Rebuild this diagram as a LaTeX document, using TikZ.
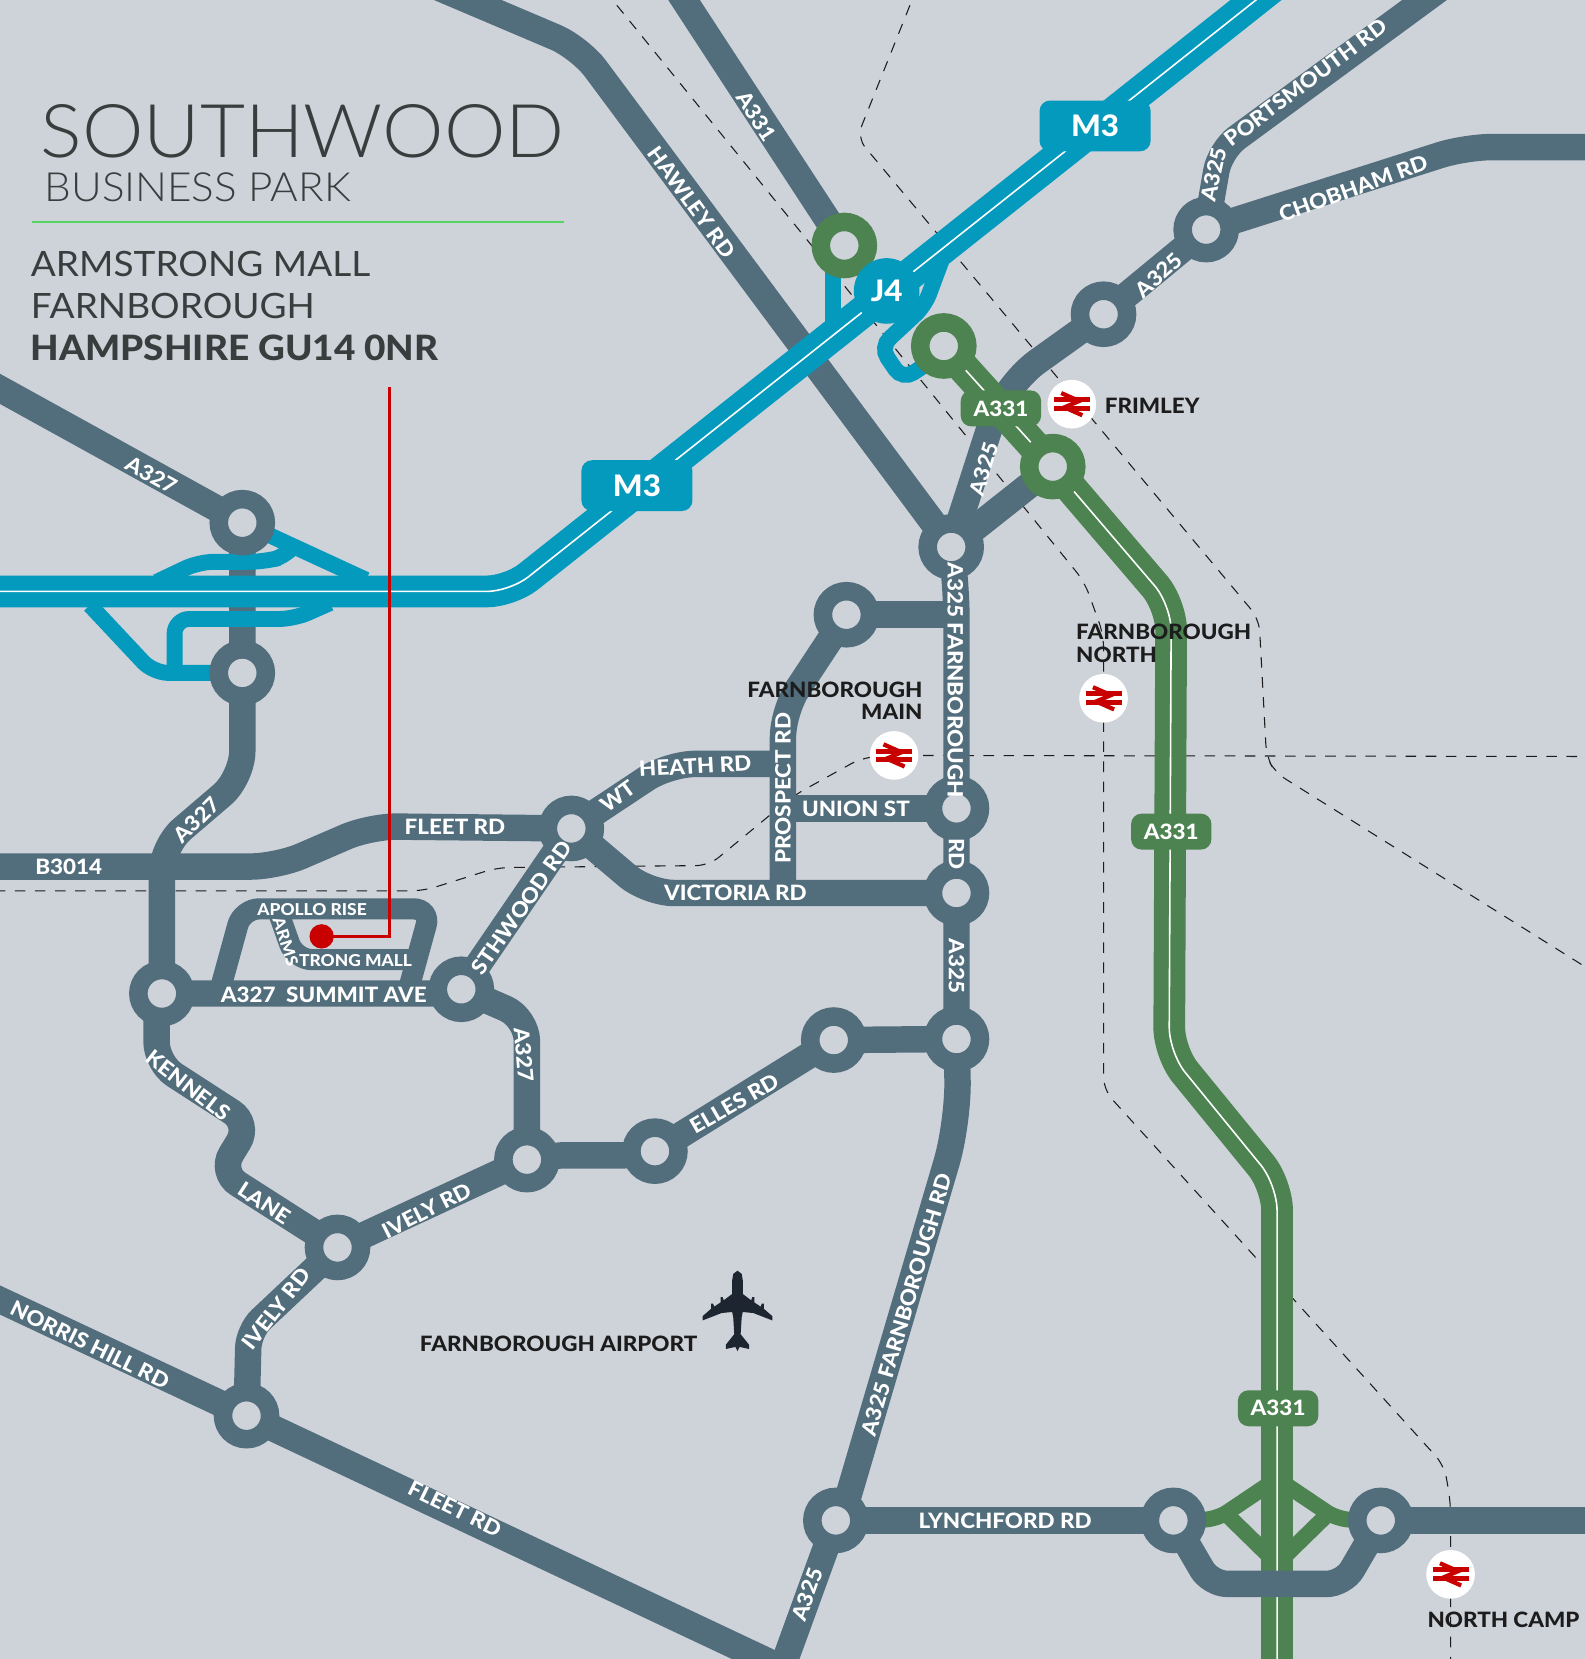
\documentclass[tikz,border=0pt]{standalone}
\usepackage{fontspec}
\setmainfont{Lato}[FakeStretch=1.06,BoldFont={Lato Heavy}]
\newfontfamily\lightfont{Lato Light}[FakeStretch=1.05]
\definecolor{bgcol}{HTML}{CED2D9}
\definecolor{roadcol}{HTML}{526D7C}
\definecolor{mwaycol}{HTML}{049ABD}
\definecolor{greencol}{HTML}{4C8350}
\definecolor{inkcol}{HTML}{1C1C1C}
\definecolor{railcol}{HTML}{C80000}
\definecolor{titlecol}{HTML}{3A3D3D}
\definecolor{rulecol}{HTML}{55D462}
\definecolor{planecol}{HTML}{1D2530}
\tikzset{
    road/.style={draw=roadcol,line width=25pt,rounded corners=25pt},
    minor/.style={draw=roadcol,line width=20pt,rounded corners=16pt},
    mway/.style={draw=mwaycol,double=white,double distance=1.5pt,line width=14.25pt,rounded corners=22pt},
    trunk/.style={draw=greencol,double=white,double distance=1.5pt,line width=14.25pt,rounded corners=24pt},
    slip/.style={draw=mwaycol,line width=15pt,rounded corners=14pt},
    gslip/.style={draw=greencol,line width=15pt,rounded corners=12pt},
    boundary/.style={draw=inkcol,line width=1pt,dash pattern=on 10pt off 9pt,rounded corners=12pt},
    ringroad/.style={circle,draw=roadcol,fill=bgcol,line width=17.5pt,minimum size=44.5pt,inner sep=0pt,outer sep=0pt},
    ringgreen/.style={ringroad,draw=greencol},
    lbl/.style={text=white,font=\bfseries\fontsize{20}{20}\selectfont,inner sep=0pt},
    lblsmall/.style={lbl,font=\bfseries\fontsize{15.5}{15.5}\selectfont},
    stn/.style={text=inkcol,font=\bfseries\fontsize{20}{21}\selectfont,inner sep=0pt},
    badge/.style={fill=greencol,text=white,rounded corners=10pt,minimum width=76pt,minimum height=34pt,inner sep=0pt,font=\bfseries\fontsize{20}{20}\selectfont},
    mbadge/.style={fill=mwaycol,text=white,rounded corners=10pt,minimum width=105pt,minimum height=48pt,inner sep=0pt,font=\bfseries\fontsize{28}{28}\selectfont},
    stndisc/.style={circle,fill=white,minimum size=46pt,inner sep=0pt},
    railsym/.pic={
        \fill[railcol] (-17,-6.5) rectangle (17,-1.8);
        \fill[railcol] (-17,1.8) rectangle (17,6.5);
        \draw[railcol,line width=4pt] (-10,-10.5) -- (7,-3) -- (-7,3) -- (10,10.5);
    },
    planesym/.pic={
        \fill[planecol] (0,-39) -- (4,-36) -- (5,-30) -- (5,-17) -- (13,-11) -- (14,-14) -- (16,-14) -- (16,-9)
            -- (22,-5) -- (23,-8) -- (25,-8) -- (25,-3) -- (33,4) -- (33,8) -- (15,1) -- (5,0) -- (4,5) -- (3,21)
            -- (11,31) -- (11,35) -- (2,33) -- (0,37) -- (-2,33) -- (-11,35) -- (-11,31) -- (-3,21) -- (-4,5)
            -- (-5,0) -- (-15,1) -- (-33,8) -- (-33,4) -- (-25,-3) -- (-25,-8) -- (-23,-8) -- (-22,-5) -- (-16,-9)
            -- (-16,-14) -- (-14,-14) -- (-13,-11) -- (-5,-17) -- (-5,-30) -- (-4,-36) -- cycle;
    },
}
\begin{document}
\begin{tikzpicture}[x=1pt,y=-1pt]
    \useasboundingbox (0,0) rectangle (1498,1568);
    \clip (0,0) rectangle (1498,1568);
    \fill[bgcol] (0,0) rectangle (1498,1568);

    % junctions
    \coordinate (rbNorth) at (229,494);
    \coordinate (rbSouth) at (229,636);
    \coordinate (rbSummitW) at (153,939);
    \coordinate (rbSummitE) at (436,935);
    \coordinate (rbFleet) at (540,783);
    \coordinate (rbPortsmouth) at (1140,217);
    \coordinate (rbMid) at (1043,297);
    \coordinate (rbFarn) at (899,517);
    \coordinate (rbProspect) at (800,581);
    \coordinate (rbUnion) at (904,764);
    \coordinate (rbVictoria) at (904,844);
    \coordinate (rbEllesE) at (904,982);
    \coordinate (rbEllesW) at (788,983);
    \coordinate (rbIvelyE) at (498,1096);
    \coordinate (rbIvelyM) at (619,1088);
    \coordinate (rbIvelyW) at (319,1179);
    \coordinate (rbNorris) at (233,1338);
    \coordinate (rbLynch) at (790,1437);
    \coordinate (rbLynchE) at (1109,1437);
    \coordinate (rbCamp) at (1305,1437);
    \coordinate (grTop) at (798,232);
    \coordinate (grMid) at (892,327);
    \coordinate (grLow) at (995,441);
    \coordinate (stFrimley) at (1013,382);
    \coordinate (stNorth) at (1043,660);
    \coordinate (stMain) at (845,714);
    \coordinate (stCamp) at (1371,1488);
    \coordinate (pin) at (304,885);

    % boundaries
    \draw[boundary] (583,5) -- (1025,550) -- (1043,600) -- (stNorth) -- (1043,1030) -- (1365,1385) -- (1371,1420) -- (1371,1568);
    \draw[boundary] (860,5) -- (810,130) -- (1190,585) -- (1197,715) -- (1205,730) -- (1505,918);
    \draw[boundary] (-5,842) -- (400,842) -- (470,820) -- (670,818) -- (750,752) -- (815,716) -- (stMain) -- (1505,715);

    % roads
    \draw[road] (395,-20) -- (548,45) -- (rbFarn);
    \draw[road] (640,-10) -- (grTop);
    \draw[road] (-10,362) -- (rbNorth);
    \draw[road] (rbNorth) -- (rbSouth) -- (229,735) -- (153,800) -- (rbSummitW);
    \draw[road] (-10,819) -- (262,819) -- (350,781) -- (rbFleet);
    \draw[road] (rbSummitW) -- (436,939) -- (rbSummitE);
    \draw[minor] (207,939) -- (229,859) -- (407,859) -- (385,939);
    \draw[minor] (262,859) -- (279,907) -- (395,907);
    \draw[road,rounded corners=22pt] (rbSummitE) -- (498,962) -- (rbIvelyE);
    \draw[road] (rbSummitE) -- (rbFleet);
    \draw[road,rounded corners=1pt] (rbIvelyE) -- (530,1092) -- (590,1092) -- (rbIvelyM);
    \draw[road] (rbIvelyM) -- (rbEllesW) -- (rbEllesE);
    \draw[road] (rbFarn) -- (904,560) -- (rbUnion) -- (rbVictoria) -- (rbEllesE);
    \draw[road,rounded corners=40pt] (rbEllesE) -- (906,1060) -- (795,1437);
    \draw[road,rounded corners=2pt] (rbLynch) -- (738,1580);
    \draw[road,rounded corners=2pt] (-10,1224) -- (rbNorris) -- (738,1576);
    \draw[road] (rbIvelyW) -- (rbIvelyE);
    \draw[road,rounded corners=16pt] (rbIvelyW) -- (235,1258) -- (rbNorris);
    \draw[road,rounded corners=20pt] (148,939) -- (148,1005) -- (236,1062) -- (208,1108) -- (rbIvelyW);
    \draw[road] (rbLynch) -- (rbLynchE);
    \draw[road] (rbCamp) -- (1510,1437);
    \draw[road] (rbFleet) -- (632,722) -- (745,722);
    \draw[road] (740,844) -- (740,672) -- (rbProspect);
    \draw[road] (rbProspect) -- (904,581);
    \draw[road] (740,764) -- (rbUnion);
    \draw[road] (rbFleet) -- (612,844) -- (rbVictoria);
    \draw[road,rounded corners=40pt] (rbFarn) -- (948,365) -- (rbMid);
    \draw[road] (rbMid) -- (rbPortsmouth);
    \draw[road] (rbFarn) -- (grLow);
    \draw[road,rounded corners=20pt] (rbPortsmouth) -- (1153,142) -- (1360,-10);
    \draw[road] (rbPortsmouth) -- (1385,139) -- (1510,139);

    % A331
    \draw[gslip] (rbLynchE) -- (1150,1436) -- (1205,1399);
    \draw[gslip] (1160,1432) -- (1205,1476);
    \draw[gslip] (rbCamp) -- (1264,1436) -- (1209,1399);
    \draw[gslip] (1254,1432) -- (1209,1476);
    \draw[trunk] (grMid) -- (grLow) -- (1107,572) -- (1105,995) -- (1207,1120) -- (1207,1580);
    \draw[road,rounded corners=16pt] (rbLynchE) -- (1144,1497) -- (1270,1497) -- (rbCamp);

    % M3 and slips
    \draw[slip,rounded corners=2pt] (rbNorth) -- (346,548);
    \draw[slip] (148,550) -- (188,531) -- (250,531) -- (272,525) -- (280,514);
    \draw[slip] (312,570) -- (278,585) -- (165,585) -- (165,640);
    \draw[slip] (85,572) -- (145,636) -- (rbSouth);
    \draw[slip,rounded corners=12pt] (893,238) -- (874,289) -- (832,328) -- (853,359) -- (885,338);
    \draw[slip,rounded corners=1pt] (787,250) -- (787,308);
    \draw[mway] (-10,559) -- (482,559) -- (1206,-15);

    % rings
    \foreach \rb in {rbNorth,rbSouth,rbSummitW,rbSummitE,rbFleet,rbPortsmouth,rbMid,rbFarn,rbProspect,rbUnion,rbVictoria,rbEllesE,rbEllesW,rbIvelyE,rbIvelyM,rbIvelyW,rbNorris,rbLynch,rbLynchE,rbCamp}
        \node[ringroad] (ring\rb) at (\rb) {};
    \foreach \rb in {grTop,grMid,grLow}
        \node[ringgreen] (ring\rb) at (\rb) {};

    \node[circle,fill=mwaycol,text=white,minimum size=62pt,inner sep=0pt,font=\bfseries\fontsize{28}{28}\selectfont] (jFour) at (838,275) {J4};
    \node[mbadge] (mThreeA) at (602,459) {M3};
    \node[mbadge] (mThreeB) at (1035,119) {M3};
    \node[badge] (aThreeA) at (946,386) {A331};
    \node[badge] (aThreeB) at (1107,786) {A331};
    \node[badge] (aThreeC) at (1208,1331) {A331};

    % road names
    \node[lbl,rotate=-57] (lblA) at (715,110) {A331};
    \node[lbl,rotate=-54] (lblB) at (654,191) {HAWLEY RD};
    \node[lbl,rotate=-29] (lblC) at (143,449) {A327};
    \node[lbl,rotate=45] (lblD) at (186,775) {A327};
    \node[lbl] (lblE) at (65,819) {B3014};
    \node[lbl] (lblF) at (430,781) {FLEET RD};
    \node[lbl,rotate=36] (lblG) at (584,753) {WT};
    \node[lbl,rotate=3] (lblH) at (657,724) {HEATH RD};
    \node[lbl,rotate=90] (lblI) at (740,745) {PROSPECT RD};
    \node[lbl] (lblJ) at (809,764) {UNION ST};
    \node[lbl] (lblK) at (695,844) {VICTORIA RD};
    \node[lbl,rotate=55] (lblL) at (493,858) {STHWOOD RD};
    \node[lbl,rotate=-90] (lblM) at (903,643) {A325 FARNBOROUGH};
    \node[lbl,rotate=-90] (lblN) at (904,807) {RD};
    \node[lbl,rotate=-90] (lblO) at (904,913) {A325};
    \node[lbl,rotate=-85] (lblP) at (495,997) {A327};
    \node[lbl,rotate=30] (lblQ) at (694,1043) {ELLES RD};
    \node[lbl,rotate=27] (lblR) at (403,1144) {IVELY RD};
    \node[lbl,rotate=52] (lblS) at (261,1237) {IVELY RD};
    \node[lbl,rotate=-38] (lblT) at (178,1026) {KENNELS};
    \node[lbl,rotate=-33] (lblU) at (250,1137) {LANE};
    \node[lbl,rotate=-26] (lblV) at (85,1271) {NORRIS HILL RD};
    \node[lbl,rotate=-26] (lblW) at (430,1426) {FLEET RD};
    \node[lbl,rotate=73.5] (lblX) at (857,1233) {A325 FARNBOROUGH RD};
    \node[lbl,rotate=70] (lblY) at (763,1507) {A325};
    \node[lbl] (lblZ) at (950,1437) {LYNCHFORD RD};
    \node[lbl,rotate=73] (lblAa) at (930,443) {A325};
    \node[lbl,rotate=42] (lblAb) at (1095,260) {A325};
    \node[lbl,rotate=78] (lblAc) at (1147,165) {A325};
    \node[lbl,rotate=37] (lblAd) at (1234,78) {PORTSMOUTH RD};
    \node[lbl,rotate=20] (lblAe) at (1279,178) {CHOBHAM RD};
    \node[lbl] (lblAf) at (306,940) {A327\hspace{10pt}SUMMIT AVE};
    \node[lblsmall] (lblAg) at (295,860) {APOLLO RISE};
    \node[lblsmall,rotate=-72] (lblAh) at (270,890) {ARMS};
    \node[lblsmall] (lblAi) at (336,908) {TRONG MALL};

    % stations
    \foreach \st in {stFrimley,stNorth,stMain,stCamp} {
        \node[stndisc] (disc\st) at (\st) {};
        \pic at (\st) {railsym};
    }
    \node[stn,anchor=west] (nmFrimley) at (1044,384) {FRIMLEY};
    \node[stn,anchor=west,align=left] (nmNorth) at (1017,608) {FARNBOROUGH\\NORTH};
    \node[stn,anchor=east,align=right] (nmMain) at (872,662) {FARNBOROUGH\\MAIN};
    \node[stn,anchor=west] (nmCamp) at (1349,1531) {NORTH CAMP};
    \node[stn] (nmAirport) at (528,1270) {FARNBOROUGH AIRPORT};
    \pic at (697,1240) {planesym};

    % title block
    \node[anchor=base west,inner sep=0pt,text=titlecol,font=\lightfont\fontsize{70}{70}\selectfont] (ttlMain) at (38,149) {SOUTHWOOD};
    \node[anchor=base west,inner sep=0pt,text=titlecol,font=\lightfont\fontsize{38}{38}\selectfont] (ttlSub) at (42,190) {BUSINESS PARK};
    \coordinate (ruleL) at (30,210);
    \coordinate (ruleR) at (533,210);
    \draw[draw=rulecol,line width=2pt] (ruleL) -- (ruleR);
    \node[anchor=base west,inner sep=0pt,text=titlecol,font=\fontsize{33}{33}\selectfont] (addrA) at (29,261) {ARMSTRONG MALL};
    \node[anchor=base west,inner sep=0pt,text=titlecol,font=\fontsize{33}{33}\selectfont] (addrB) at (29,301) {FARNBOROUGH};
    \node[anchor=base west,inner sep=0pt,text=titlecol,font=\bfseries\fontsize{33}{33}\selectfont] (addrC) at (29,341) {HAMPSHIRE GU14 0NR};

    % pin
    \coordinate (pinTop) at (368,366);
    \draw[railcol,line width=2.5pt] (pinTop) -- (368,885) -- (pin);
    \node[circle,fill=railcol,minimum size=23pt,inner sep=0pt] (pinDot) at (pin) {};
\end{tikzpicture}
\end{document}
